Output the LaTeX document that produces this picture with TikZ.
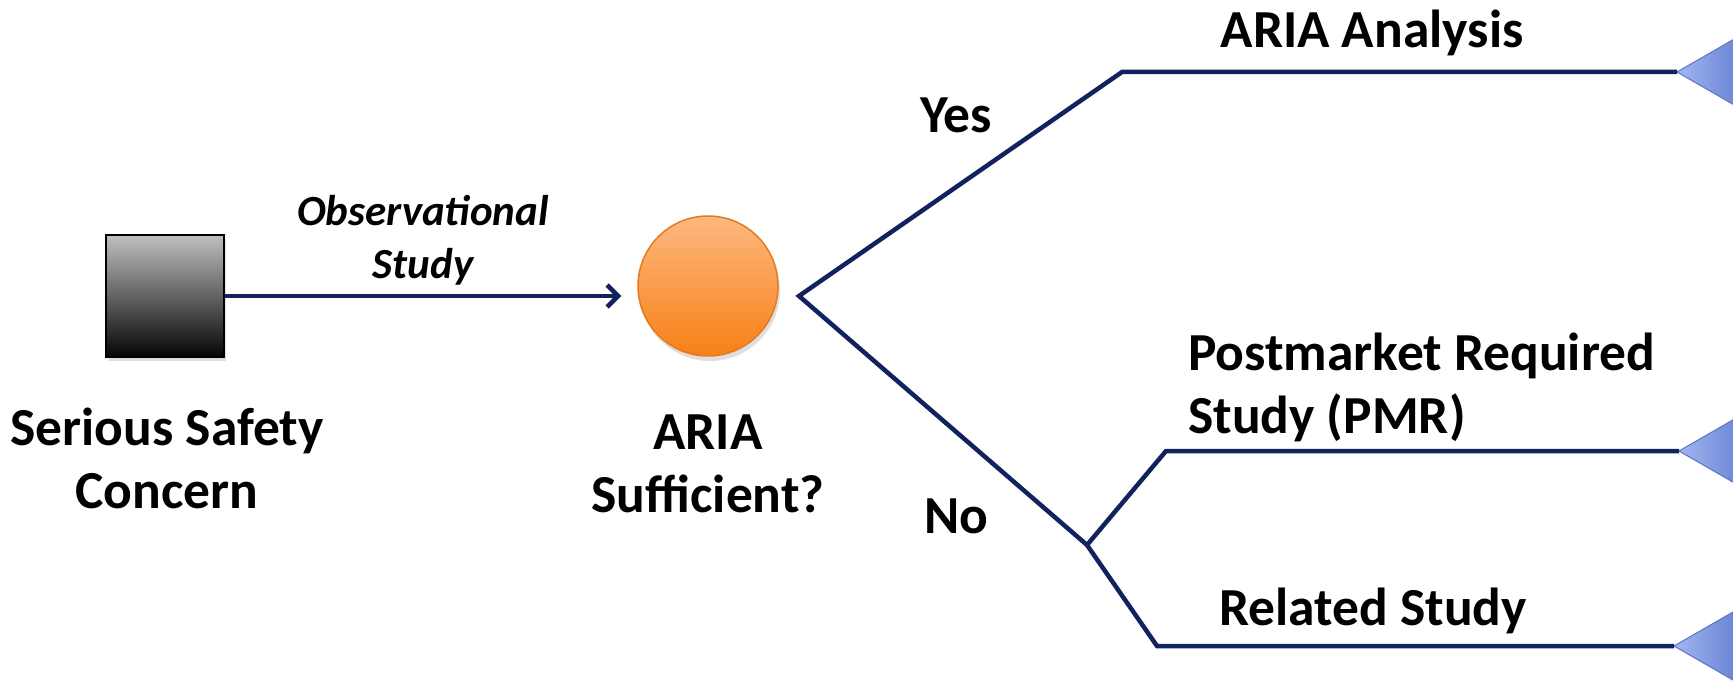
\documentclass[tikz,border=0pt]{standalone}
\usepackage{fontspec}
\setmainfont{Carlito}
\usetikzlibrary{arrows.meta,shadows}
\definecolor{navy}{RGB}{18,34,94}
\definecolor{orTop}{RGB}{252,184,128}
\definecolor{orBot}{RGB}{248,128,22}
\definecolor{orLine}{RGB}{230,122,32}
\definecolor{sqTop}{RGB}{192,192,192}
\definecolor{sqBot}{RGB}{5,5,5}
\definecolor{triL}{RGB}{162,182,242}
\definecolor{triR}{RGB}{72,102,192}
\definecolor{triLine}{RGB}{92,116,196}
\tikzset{
  conn/.style={draw=navy, line width=4.5pt, line join=miter},
  lbl/.style={font=\fontsize{53.5}{63}\selectfont\bfseries, inner sep=0pt, align=center},
  sqbox/.style={draw=black, line width=1.5pt, top color=sqTop, bottom color=sqBot,
    minimum width=118pt, minimum height=122pt, inner sep=0pt,
    drop shadow={opacity=0.25, shadow xshift=2pt, shadow yshift=-4pt}},
  circbox/.style={circle, draw=orLine, line width=1.5pt, top color=orTop, bottom color=orBot,
    minimum size=140pt, inner sep=0pt,
    drop shadow={opacity=0.25, shadow xshift=2pt, shadow yshift=-5pt}},
  tri/.style={left color=triL, right color=triR, draw=triLine, line width=1pt, line join=round}
}
\begin{document}
\begin{tikzpicture}[x=1pt, y=-1pt]
\useasboundingbox (0,0) rectangle (1733,682);
\clip (0,0) rectangle (1733,682);
% shapes
\node[sqbox] (sq) at (165,296) {};
\node[circbox] (circ) at (708,286) {};
% fork points
\coordinate (fk) at (799,296);
\coordinate (c1) at (1122,72);
\coordinate (fk2) at (1087,545);
\coordinate (c2) at (1166,451);
\coordinate (c3) at (1157,646);
\coordinate (t1) at (1677,72);
\coordinate (t2) at (1679,451);
\coordinate (t3) at (1674,646);
% triangles
\foreach \t in {t1,t2,t3}{
  \path[tri] (\t) -- ++(100,-57.7) -- ++(0,115.4) -- cycle;
}
% connectors
\draw[conn, -{Straight Barb[length=11pt,width=22pt,line width=4.5pt]}, shorten >=16pt]
  (sq.east) -- (sq.east -| circ.west);
\draw[conn] (t1) -- (c1) -- (fk) -- (fk2);
\draw[conn] (fk2) -- (c2) -- (t2);
\draw[conn] (fk2) -- (c3) -- (t3);
% labels
\node[lbl] (l1) at (167,458) {Serious Safety\\Concern};
\node[lbl] (l2) at (708,464) {ARIA\\Sufficient?};
\node[font=\fontsize{43}{53}\selectfont\bfseries\itshape, inner sep=0pt, align=center] (l3) at (423,240) {Observational\\Study};
\node[lbl, anchor=base] (l4) at (956,133) {Yes};
\node[lbl, anchor=base] (l5) at (956,533) {No};
\node[lbl, anchor=base] (l6) at (1372,48) {ARIA Analysis};
\node[lbl, anchor=base] (l7) at (1373,625) {Related Study};
\node[lbl, align=left, anchor=north west] (l8) at (1188,333) {Postmarket Required\\Study (PMR)};
\end{tikzpicture}
\end{document}
